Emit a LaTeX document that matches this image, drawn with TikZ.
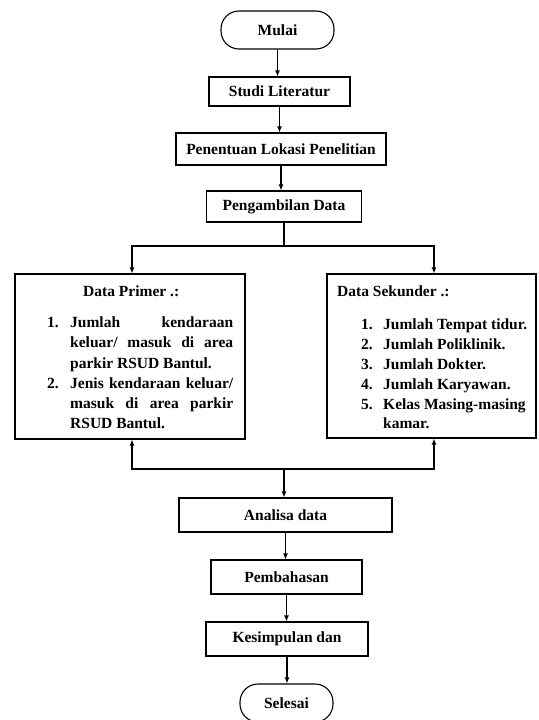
\documentclass[tikz,border=0pt]{standalone}
\usepackage{fontspec}
\setmainfont{Liberation Serif}
\usetikzlibrary{arrows.meta}
\begin{document}
\begin{tikzpicture}[x=1pt,y=-1pt,
  txt/.style={inner sep=0pt, font=\fontsize{15.5}{18}\selectfont\bfseries},
  box/.style={draw, line width=1.1pt, inner sep=0pt, align=center, font=\fontsize{15.5}{18}\selectfont\bfseries},
  term/.style={box, rounded corners=18pt},
  arr/.style={line width=1.1pt, -{Latex[length=6pt,width=5pt]}},
  ln/.style={line width=1.1pt}]
\useasboundingbox (0,0) rectangle (538,720);
% main column
\node[term, minimum width=113pt, minimum height=38pt] (mulai) at (277.5,30) {Mulai};
\node[box, minimum width=141pt, minimum height=29pt] (studi) at (279.5,91.5) {Studi Literatur};
\node[box, minimum width=210pt, minimum height=32pt] (lokasi) at (281,149) {Penentuan Lokasi Penelitian};
\node[box, minimum width=155pt, minimum height=31pt] (ambil) at (284,206.5) {Pengambilan Data};
% data boxes
\node[box, minimum width=230pt, minimum height=165pt] (primer) at (130,356.5) {};
\node[box, minimum width=209pt, minimum height=164pt] (sekunder) at (431.5,356) {};
% lower column
\node[box, minimum width=213pt, minimum height=34pt] (analisa) at (285.5,515) {Analisa data};
\node[box, minimum width=151pt, minimum height=34pt] (bahas) at (286.5,577) {Pembahasan};
\node[box, minimum width=162pt, minimum height=34pt] (simpul) at (287,639) {Kesimpulan dan};
\node[term, minimum width=93pt, minimum height=38pt] (selesai) at (286.5,703) {Selesai};
% primer text
\node[txt, anchor=base west] (ptitle) at (83,296) {Data Primer .:};
\node[txt, anchor=base west] (pn1) at (47,327) {1.};
\node[txt, anchor=base west] (p1a) at (70,327) {\makebox[163pt][s]{Jumlah kendaraan}};
\node[txt, anchor=base west] (p1b) at (70,347) {\makebox[163pt][s]{keluar/ masuk di area}};
\node[txt, anchor=base west] (p1c) at (70,368) {parkir RSUD Bantul.};
\node[txt, anchor=base west] (pn2) at (47,388) {2.};
\node[txt, anchor=base west] (p2a) at (70,388) {\makebox[163pt][s]{Jenis kendaraan keluar/}};
\node[txt, anchor=base west] (p2b) at (70,408) {\makebox[163pt][s]{masuk di area parkir}};
\node[txt, anchor=base west] (p2c) at (70,428) {RSUD Bantul.};
% sekunder text
\node[txt, anchor=base west] (stitle) at (337,296) {Data Sekunder .:};
\node[txt, anchor=base west] (sn1) at (361,329) {1.};
\node[txt, anchor=base west] (s1) at (383,329) {Jumlah Tempat tidur.};
\node[txt, anchor=base west] (sn2) at (361,349) {2.};
\node[txt, anchor=base west] (s2) at (383,349) {Jumlah Poliklinik.};
\node[txt, anchor=base west] (sn3) at (361,369) {3.};
\node[txt, anchor=base west] (s3) at (383,369) {Jumlah Dokter.};
\node[txt, anchor=base west] (sn4) at (361,389) {4.};
\node[txt, anchor=base west] (s4) at (383,389) {Jumlah Karyawan.};
\node[txt, anchor=base west] (sn5) at (361,409) {5.};
\node[txt, anchor=base west] (s5) at (383,409) {Kelas Masing-masing};
\node[txt, anchor=base west] (s5b) at (383,428) {kamar.};
% connectors
\draw[arr] (mulai.south) -- (mulai.south |- studi.north);
\draw[arr] (studi.south) -- (studi.south |- lokasi.north);
\draw[arr] (lokasi.south) -- (lokasi.south |- ambil.north);
\coordinate (split) at (284,246);
\coordinate (join) at (284,469);
\draw[ln] (ambil.south) -- (split);
\draw[arr] (split) -| ([xshift=2pt]primer.north);
\draw[arr] (split) -| ([xshift=2.5pt]sekunder.north);
\draw[arr] (join) -| ([xshift=2pt]primer.south);
\draw[arr] (join) -| ([xshift=2.5pt]sekunder.south);
\draw[arr] (join) -- (join |- analisa.north);
\draw[arr] (analisa.south) -- (analisa.south |- bahas.north);
\draw[arr] (bahas.south) -- (bahas.south |- simpul.north);
\draw[arr] (simpul.south) -- (simpul.south |- selesai.north);
\end{tikzpicture}
\end{document}
